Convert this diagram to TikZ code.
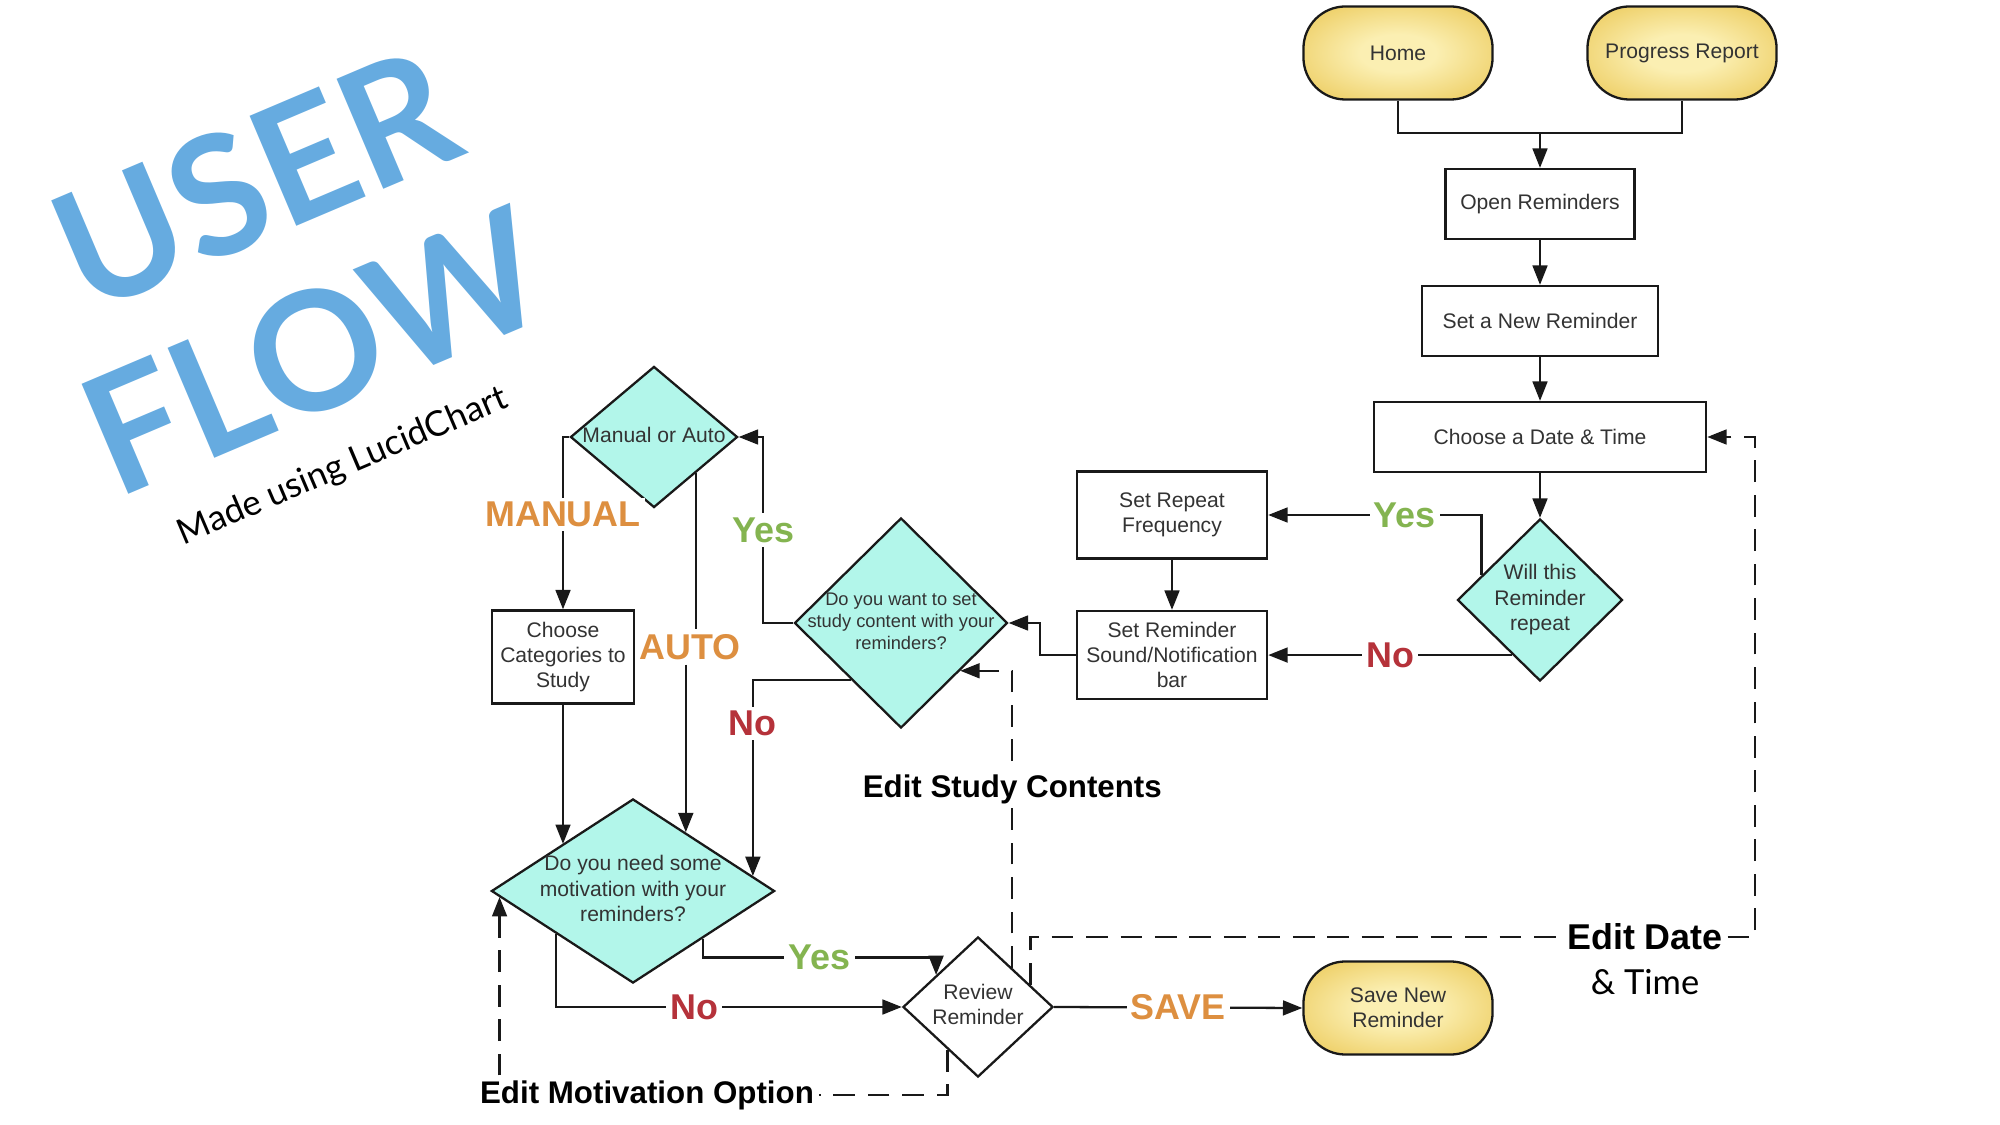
\documentclass[tikz,border=0pt]{standalone}
\usepackage{fontspec}
\setmainfont{Liberation Sans}
\newfontfamily\gillfont{Lato}
\usetikzlibrary{shapes.geometric,arrows.meta,calc}

\definecolor{flowblue}{RGB}{102,171,224}
\definecolor{yesgreen}{RGB}{132,180,80}
\definecolor{nored}{RGB}{181,50,58}
\definecolor{optorange}{RGB}{221,143,64}
\definecolor{aqua}{RGB}{178,246,234}
\definecolor{gold}{RGB}{232,193,70}
\definecolor{goldlight}{RGB}{251,239,178}
\definecolor{textgray}{RGB}{51,51,51}
\definecolor{linegray}{RGB}{25,25,25}

\pgfdeclareradialshading{termshade}{\pgfpoint{0bp}{0bp}}{color(0bp)=(goldlight); color(10bp)=(goldlight); color(40bp)=(gold); color(50bp)=(gold)}

\newcommand{\dtext}[1]{\makebox[0pt]{\begin{tabular}{@{}c@{}}#1\end{tabular}}}

\tikzset{
  txt/.style={draw=linegray, line width=0.65pt, align=center, text=textgray, font=\fontsize{6}{7.2}\selectfont, inner sep=0pt},
  box/.style={txt, fill=white},
  term/.style={txt, rounded corners=0.42cm, shade, shading=termshade, minimum width=1.89cm, minimum height=0.93cm},
  dia/.style={txt, diamond, fill=aqua},
  plain/.style={draw=linegray, line width=0.65pt},
  flow/.style={plain, -{Triangle[length=5.5pt,width=4.2pt]}},
  dashplain/.style={plain, dash pattern=on 6.2pt off 3.6pt},
  dashflow/.style={flow, dash pattern=on 6.2pt off 3.6pt},
  lbl/.style={fill=white, inner sep=1.2pt, font=\fontsize{10.2}{12}\selectfont\bfseries},
  editlbl/.style={lbl, text=black, font=\fontsize{8.9}{10.5}\selectfont\bfseries},
  title/.style={font=\gillfont\bfseries\fontsize{47}{50}\selectfont, text=flowblue, rotate=23},
  madeby/.style={font=\gillfont\fontsize{10}{12}\selectfont, rotate=23}
}

\begin{document}
\begin{tikzpicture}[x=0.01cm, y=-0.01cm]
    \useasboundingbox (0,0) rectangle (2000,1125);

    \node[title] (user) at (255,179) {USER};
    \node[title] (flowword) at (314,351) {FLOW};
    \node[madeby] (made) at (343,467) {Made using LucidChart};

    \node[term] (home) at (1398,53) {Home};
    \node[term] (progress) at (1682,53) {Progress Report};
    \node[box, minimum width=1.89cm, minimum height=0.70cm] (open) at (1540,204) {Open Reminders};
    \node[box, minimum width=2.36cm, minimum height=0.70cm] (newrem) at (1540,321) {Set a New Reminder};
    \node[box, minimum width=3.32cm, minimum height=0.70cm] (datetime) at (1540,437) {Choose a Date \& Time};
    \node[dia, minimum width=1.65cm, minimum height=1.62cm] (repeatq) at (1540,600) {\dtext{Will this\\Reminder\\repeat}};

    \node[box, minimum width=1.90cm, minimum height=0.87cm] (freq) at (1172,515) {Set Repeat\\Frequency};
    \node[box, minimum width=1.90cm, minimum height=0.88cm] (sound) at (1172,655) {Set Reminder\\Sound/Notification\\bar};
    \node[dia, minimum width=2.13cm, minimum height=2.10cm, font=\fontsize{5.2}{6.3}\selectfont] (studyq) at (901,623) {\dtext{Do you want to set\\study content with your\\reminders?}};

    \node[dia, minimum width=1.67cm, minimum height=1.41cm] (modeq) at (654,437) {\dtext{Manual or Auto}};
    \node[box, minimum width=1.42cm, minimum height=0.93cm] (categ) at (563,657) {Choose\\Categories to\\Study};
    \node[dia, minimum width=2.83cm, minimum height=1.84cm] (motivq) at (633,891) {\dtext{Do you need some\\motivation with your\\reminders?}};
    \node[dia, fill=white, minimum width=1.50cm, minimum height=1.40cm] (review) at (978,1007) {\dtext{Review\\Reminder}};
    \node[term] (save) at (1398,1008) {Save New\\Reminder};

    \coordinate (join) at ($(open.north)+(0,-35)$);
    \draw[plain] (home.south) |- (join) -| (progress.south);
    \draw[flow] (join) -- (open.north);
    \draw[flow] (open) -- (newrem);
    \draw[flow] (newrem) -- (datetime);
    \draw[flow] (datetime) -- (repeatq);

    \coordinate (repYes) at ($(repeatq.north)!0.7!(repeatq.west)$);
    \coordinate (repNo) at ($(repeatq.west)!0.67!(repeatq.south)$);
    \draw[flow] (repYes) |- node[lbl, text=yesgreen, pos=0.68] (repyeslbl) {Yes} (freq.east);
    \draw[flow] (repNo) -- node[lbl, text=nored] (repnolbl) {No} (repNo -| sound.east);
    \draw[flow] (freq) -- (sound);
    \draw[flow] (sound.west) -- ++(-36,0) |- (studyq.east);

    \draw[flow] (studyq.west) -- ++(-30,0) |- node[lbl, text=yesgreen, pos=0.25] (studyyeslbl) {Yes} (modeq.east);
    \draw[flow] (modeq.west) -| node[lbl, text=optorange, pos=0.725] (manuallbl) {MANUAL} (categ.north);

    \node[lbl, text=optorange] (autolbl) at (690,647) {AUTO};
    \coordinate (autoTop) at ($(modeq.east)!0.5!(modeq.south)$);
    \coordinate (autoEnd) at ($(motivq.north)!0.37!(motivq.east)$);
    \draw[plain] (autoTop) -- (autoTop |- autolbl.north);
    \draw[flow] (autolbl.south -| autoEnd) -- (autoEnd);

    \coordinate (catEnd) at ($(motivq.west)!0.505!(motivq.north)$);
    \draw[flow] (categ.south) -- (categ.south |- catEnd);

    \coordinate (studyNo) at ($(studyq.west)!0.54!(studyq.south)$);
    \coordinate (motivNo) at ($(motivq.north)!0.84!(motivq.east)$);
    \draw[flow] (studyNo) -| node[lbl, text=nored, pos=0.61] (studynolbl) {No} (motivNo);

    \coordinate (motivYes) at ($(motivq.east)!0.51!(motivq.south)$);
    \coordinate (reviewYes) at ($(review.west)!0.45!(review.north)$);
    \draw[flow] (motivYes) -- ++(0,19) -| node[lbl, text=yesgreen, pos=0.25] (motivyeslbl) {Yes} (reviewYes);
    \coordinate (motivNoOut) at ($(motivq.west)!0.46!(motivq.south)$);
    \draw[flow] (motivNoOut) |- node[lbl, text=nored, pos=0.70] (motivnolbl) {No} (review.west);

    \draw[flow] (review.east) -- node[lbl, text=optorange] (savelbl) {SAVE} (save.west);

    \node[editlbl] (editmot) at (647,1095) {Edit Motivation Option};
    \coordinate (reviewMot) at ($(review.south)!0.4!(review.west)$);
    \coordinate (motivBack) at ($(motivq.west)!0.065!(motivq.south)$);
    \draw[dashplain] (reviewMot) |- (editmot.east);
    \draw[dashflow] (editmot.north -| motivBack) -- (motivBack);

    \coordinate (reviewStudy) at ($(review.north)!0.45!(review.east)$);
    \coordinate (studyBack) at ($(studyq.east)!0.45!(studyq.south)$);
    \draw[dashflow] (reviewStudy) |- node[editlbl, pos=0.30] (editstudy) {Edit Study Contents} (studyBack);

    \node[editlbl, font=\fontsize{10.2}{12}\selectfont\bfseries] (editdate) at (1645,937) {Edit Date};
    \node[font=\gillfont\fontsize{9.8}{12}\selectfont] (edittime) at (1645,982) {\& Time};
    \coordinate (reviewDate) at ($(review.north)!0.69!(review.east)$);
    \coordinate (dateCorner) at ($(datetime.east)+(48,0)$);
    \draw[dashplain] (reviewDate) |- (editdate.west);
    \draw[dashflow] (editdate.east) -| (dateCorner) -- (datetime.east);
\end{tikzpicture}
\end{document}
